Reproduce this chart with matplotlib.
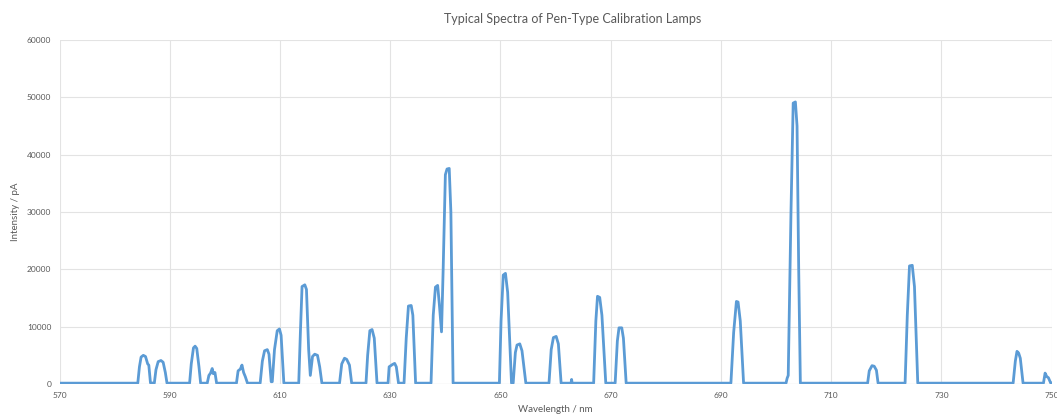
import matplotlib.pyplot as plt
import numpy as np

# outline of the spectrum (nm, pA)
wavelength = [570, 584.2, 584.5, 584.8, 585.2, 585.6, 586.0, 586.2, 586.5,
              587.2, 587.5, 587.9, 588.4, 588.8, 589.2, 589.5,
              593.6, 593.9, 594.3, 594.6, 594.9, 595.3, 595.6,
              596.8, 597.1, 597.4, 597.7, 597.9, 598.2, 598.5,
              602.1, 602.4, 602.8, 603.1, 603.4, 603.7, 604.1,
              606.4, 606.8, 607.2, 607.7, 608.0, 608.4, 608.6,
              609.0, 609.5, 609.9, 610.2, 610.7,
              613.4, 613.7, 614.0, 614.5, 614.8, 615.2, 615.5,
              615.9, 616.3, 616.8, 617.2, 617.6,
              620.8, 621.2, 621.7, 622.1, 622.6, 623.0,
              625.6, 625.9, 626.3, 626.7, 627.1, 627.6,
              629.6, 629.8, 630.4, 630.8, 631.1, 631.5,
              632.5, 632.9, 633.3, 633.8, 634.1, 634.6,
              637.4, 637.8, 638.2, 638.6, 638.9, 639.3,
              639.6, 640.0, 640.3, 640.7, 641.0, 641.4,
              649.8, 650.1, 650.5, 650.9, 651.3, 652.0,
              652.3, 652.7, 653.0, 653.5, 653.9, 654.6,
              658.8, 659.2, 659.6, 660.1, 660.5, 661.0,
              662.8, 662.9, 663.0,
              666.9, 667.3, 667.6, 668.0, 668.4, 669.1,
              670.8, 671.2, 671.5, 672.0, 672.3, 672.8,
              691.8, 692.3, 692.8, 693.1, 693.5, 694.1,
              701.8, 702.0, 702.2, 702.7, 703.1, 703.5, 703.8, 704.1, 704.4,
              716.6, 716.9, 717.4, 717.8, 718.2, 718.5,
              723.4, 723.8, 724.2, 724.7, 725.1, 725.7,
              743.0, 743.4, 743.7, 744.0, 744.3, 744.8,
              748.5, 748.8, 749.1, 749.4, 749.8, 750]
intensity = [150, 150, 3000, 4700, 5000, 4800, 3500, 3300, 200,
             150, 2500, 3900, 4100, 3800, 2000, 150,
             150, 3500, 6300, 6600, 6200, 3000, 150,
             150, 1500, 1900, 2700, 1800, 2000, 150,
             150, 2300, 2600, 3300, 2000, 1300, 150,
             150, 4000, 5800, 6000, 5200, 400, 400,
             6000, 9300, 9600, 8500, 150,
             150, 9000, 17000, 17300, 16500, 6000, 1500,
             4800, 5200, 5000, 3000, 150,
             150, 3500, 4500, 4300, 3300, 150,
             150, 5000, 9300, 9500, 8000, 150,
             150, 3000, 3400, 3600, 3000, 150,
             150, 8000, 13600, 13700, 12000, 150,
             150, 12000, 16900, 17200, 14000, 9100,
             20000, 36500, 37500, 37600, 30000, 150,
             150, 11000, 19000, 19300, 16000, 150,
             150, 5500, 6800, 7000, 5800, 150,
             150, 6000, 8100, 8300, 7000, 150,
             150, 800, 150,
             150, 11000, 15300, 15100, 12000, 150,
             150, 7500, 9800, 9800, 8000, 150,
             150, 9000, 14400, 14300, 11000, 150,
             150, 1000, 1500, 30000, 49000, 49200, 45000, 20000, 150,
             150, 2300, 3200, 3100, 2400, 150,
             150, 12000, 20600, 20700, 17000, 150,
             150, 4000, 5700, 5400, 4500, 150,
             150, 1900, 1300, 1100, 200, 150]

x_ticks = np.arange(570, 751, 20)
y_ticks = np.arange(0, 60001, 10000)

text_col = "#595959"
plt.rcParams["font.family"] = ["Lato", "DejaVu Sans"]

fig = plt.figure(figsize=(10.57, 4.19), dpi=100)
ax = fig.add_axes([0.0563, 0.0835, 0.9387, 0.821])

ax.plot(wavelength, intensity, color="#5B9BD5", lw=2, solid_joinstyle="round")

ax.set_xlim(570, 750)
ax.set_ylim(0, 60000)
ax.set_xticks(x_ticks)
ax.set_yticks(y_ticks)
ax.grid(True, color="#E3E3E3", lw=0.8)
ax.set_axisbelow(True)
for s in ax.spines.values():
    s.set_visible(False)
ax.axhline(0, color="#D9D9D9", lw=0.8, zorder=0)
ax.tick_params(length=0, labelsize=6, labelcolor=text_col, pad=6)

ax.set_xlabel("Wavelength / nm", fontsize=7, color=text_col, labelpad=4)
ax.set_ylabel("Intensity / pA", fontsize=7, color=text_col, labelpad=5)
fig.text(0.542, 0.955, "Typical Spectra of Pen-Type Calibration Lamps",
         fontsize=9, color=text_col, ha="center", va="center")

fig.savefig("out.png", dpi=100)
